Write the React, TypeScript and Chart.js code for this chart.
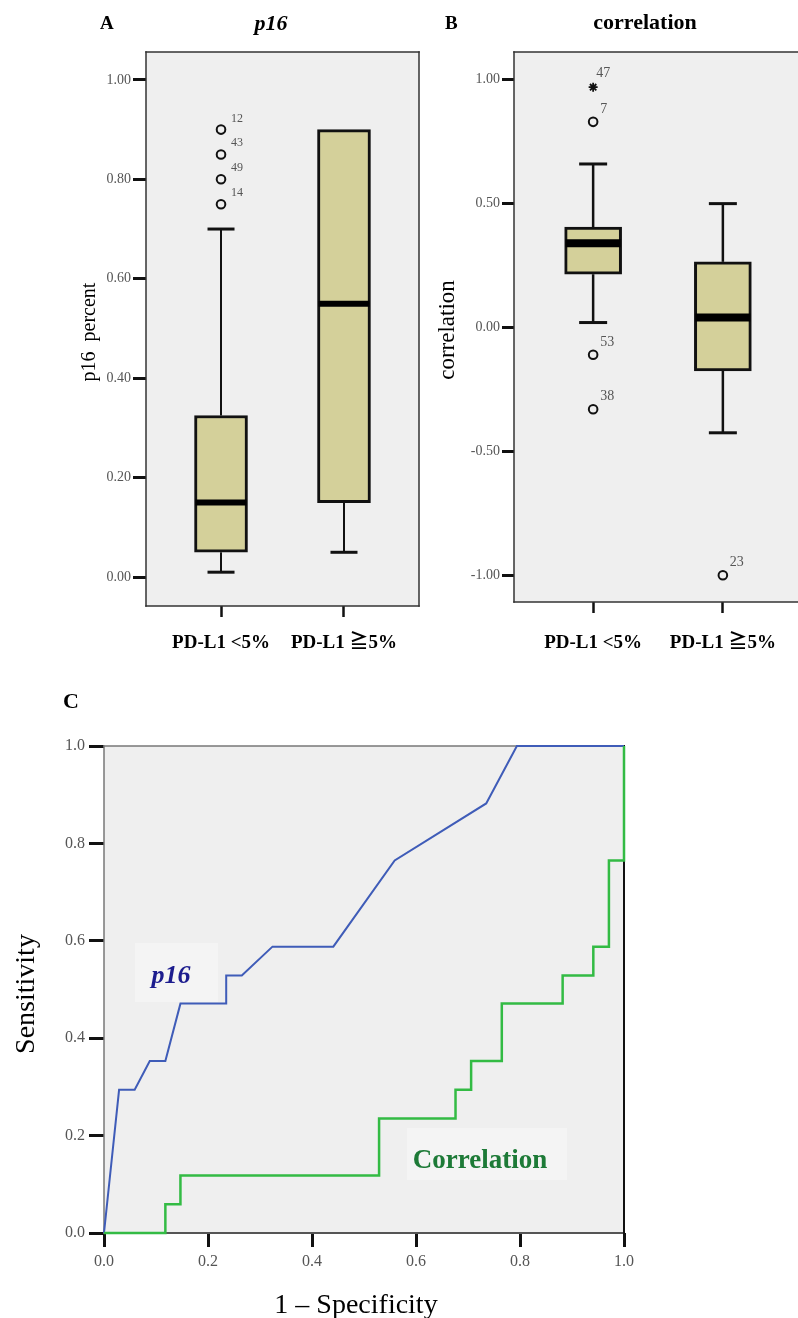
import React, { useEffect, useRef } from 'react';
import { Chart, registerables } from 'chart.js';

Chart.register(...registerables);

const SERIF = "'Liberation Serif', 'Noto Sans CJK TC', serif";

// ---------- Panel A: p16 ----------
const groups = ['PD-L1 <5%', 'PD-L1 ≧5%'];
const p16Low = [0.01, 0.05];
const p16Q1 = [0.05, 0.15];
const p16Median = [0.15, 0.55];
const p16Q3 = [0.325, 0.9];
const p16High = [0.7, 0.9];
const p16OutlierGroup = [1, 1, 1, 1];
const p16OutlierValues = [0.9, 0.85, 0.8, 0.75];
const p16OutlierIds = ['12', '43', '49', '14'];
const p16Ticks = [0, 0.2, 0.4, 0.6, 0.8, 1.0];

// ---------- Panel B: correlation ----------
const corLow = [0.02, -0.425];
const corQ1 = [0.215, -0.175];
const corMedian = [0.34, 0.04];
const corQ3 = [0.405, 0.265];
const corHigh = [0.66, 0.5];
const corOutlierGroup = [1, 1, 1, 2];
const corOutlierValues = [0.83, -0.11, -0.33, -1.0];
const corOutlierIds = ['7', '53', '38', '23'];
const corExtremeGroup = [1];
const corExtremeValues = [0.97];
const corExtremeIds = ['47'];
const corTicks = [-1, -0.5, 0, 0.5, 1];

// ---------- Panel C: ROC ----------
const p16Fpr = [0, 0.029, 0.059, 0.088, 0.118, 0.147, 0.235, 0.235, 0.265, 0.324, 0.441, 0.559, 0.735, 0.794, 1.0];
const p16Tpr = [0, 0.294, 0.294, 0.353, 0.353, 0.471, 0.471, 0.529, 0.529, 0.588, 0.588, 0.765, 0.882, 1.0, 1.0];
const corFpr = [0, 0.118, 0.118, 0.147, 0.147, 0.529, 0.529, 0.676, 0.676, 0.706, 0.706, 0.765, 0.765, 0.882, 0.882, 0.941, 0.941, 0.971, 0.971, 1.0, 1.0];
const corTpr = [0, 0, 0.059, 0.059, 0.118, 0.118, 0.235, 0.235, 0.294, 0.294, 0.353, 0.353, 0.471, 0.471, 0.529, 0.529, 0.588, 0.588, 0.765, 0.765, 1.0];
const rocTicks = [0, 0.2, 0.4, 0.6, 0.8, 1.0];

const BOX_FILL = '#d4d09a';
const PLOT_BG = '#efefef';

type Side = { color: string; width: number };
function framePlugin(bg: string, sides: { top: Side; right: Side; bottom: Side; left: Side }) {
  return {
    id: 'frame',
    beforeDraw(chart: any) {
      const { ctx, chartArea: a } = chart;
      ctx.save();
      ctx.fillStyle = bg;
      ctx.fillRect(a.left, a.top, a.right - a.left, a.bottom - a.top);
      ctx.restore();
    },
    beforeDatasetsDraw(chart: any) {
      const { ctx, chartArea: a } = chart;
      const segs: [number, number, number, number, Side][] = [
        [a.left, a.top, a.right, a.top, sides.top],
        [a.left, a.bottom, a.right, a.bottom, sides.bottom],
        [a.left, a.top, a.left, a.bottom, sides.left],
        [a.right, a.top, a.right, a.bottom, sides.right],
      ];
      ctx.save();
      ctx.lineCap = 'square';
      segs.forEach(([x1, y1, x2, y2, s]) => {
        ctx.strokeStyle = s.color;
        ctx.lineWidth = s.width;
        ctx.beginPath();
        ctx.moveTo(x1, y1);
        ctx.lineTo(x2, y2);
        ctx.stroke();
      });
      ctx.restore();
    },
  };
}

type TextItem = {
  text: string; x: number; y: number; font: string; color?: string;
  align?: CanvasTextAlign; baseline?: CanvasTextBaseline; rotate?: number;
};
type BoxItem = { x: number; y: number; w: number; h: number; color: string };
function textPlugin(items: TextItem[], boxes: BoxItem[] = []) {
  return {
    id: 'texts',
    beforeDatasetsDraw(chart: any) {
      const { ctx } = chart;
      ctx.save();
      boxes.forEach((b) => {
        ctx.fillStyle = b.color;
        ctx.fillRect(b.x, b.y, b.w, b.h);
      });
      ctx.restore();
    },
    afterDraw(chart: any) {
      const { ctx } = chart;
      items.forEach((t) => {
        ctx.save();
        ctx.font = t.font;
        ctx.fillStyle = t.color || '#000';
        ctx.textAlign = t.align || 'left';
        ctx.textBaseline = t.baseline || 'alphabetic';
        ctx.translate(t.x, t.y);
        if (t.rotate) ctx.rotate(t.rotate);
        ctx.fillText(t.text, 0, 0);
        ctx.restore();
      });
    },
  };
}

type BoxCfg = {
  low: number[]; q1: number[]; median: number[]; q3: number[]; high: number[];
  boxWidth: number; capWidth: number; whiskerWidth: number; capLine: number; medianWidth: number;
  labels: { g: number[]; v: number[]; t: string[]; dx: number; dy: number }[];
  labelFont: string; labelColor: string;
};
function boxPlugin(c: BoxCfg) {
  return {
    id: 'boxWhisker',
    beforeDatasetsDraw(chart: any) {
      const { ctx, scales } = chart;
      const xs = scales.x, ys = scales.y;
      ctx.save();
      ctx.strokeStyle = '#111';
      const line = (x1: number, y1: number, x2: number, y2: number) => {
        ctx.beginPath(); ctx.moveTo(x1, y1); ctx.lineTo(x2, y2); ctx.stroke();
      };
      c.low.forEach((_, i) => {
        const cx = xs.getPixelForValue(i + 1);
        const seg = (from: number, to: number) => {
          if (from === to) return;
          ctx.lineWidth = c.whiskerWidth;
          line(cx, ys.getPixelForValue(from), cx, ys.getPixelForValue(to));
          ctx.lineWidth = c.capLine;
          const py = ys.getPixelForValue(to);
          line(cx - c.capWidth / 2, py, cx + c.capWidth / 2, py);
        };
        seg(c.q3[i], c.high[i]);
        seg(c.q1[i], c.low[i]);
      });
      ctx.restore();
    },
    afterDatasetsDraw(chart: any) {
      const { ctx, scales } = chart;
      const xs = scales.x, ys = scales.y;
      ctx.save();
      ctx.strokeStyle = '#000';
      ctx.lineWidth = c.medianWidth;
      c.median.forEach((m, i) => {
        const cx = xs.getPixelForValue(i + 1);
        const py = ys.getPixelForValue(m);
        ctx.beginPath();
        ctx.moveTo(cx - c.boxWidth / 2 + 1, py);
        ctx.lineTo(cx + c.boxWidth / 2 - 1, py);
        ctx.stroke();
      });
      ctx.font = c.labelFont;
      ctx.fillStyle = c.labelColor;
      ctx.textAlign = 'left';
      ctx.textBaseline = 'alphabetic';
      c.labels.forEach((set) => {
        set.t.forEach((t, i) => {
          const px = xs.getPixelForValue(set.g[i]);
          const py = ys.getPixelForValue(set.v[i]);
          ctx.fillText(t, px + set.dx, py + set.dy);
        });
      });
      ctx.restore();
    },
  };
}

const noPadX = (h: number) => (s: any) => { s.height = h; s.paddingLeft = 0; s.paddingRight = 0; };
const noPadY = (w: number) => (s: any) => { s.width = w; s.paddingTop = 0; s.paddingBottom = 0; };

function boxChartConfig(opts: {
  q1: number[]; q3: number[]; yMin: number; yMax: number; yTicks: number[];
  circles: { g: number[]; v: number[] }; stars?: { g: number[]; v: number[] };
  barWidth: number; yAxisWidth: number; xAxisHeight: number; padRight: number;
  yTickLen: number; yTickPad: number; xTickPad: number; plugins: any[];
}) {
  const datasets: any[] = [
    {
      type: 'bar',
      data: opts.q1.map((v, i) => ({ x: i + 1, y: [v, opts.q3[i]] })),
      backgroundColor: BOX_FILL,
      borderColor: '#111',
      borderWidth: 3,
      borderSkipped: false,
      barThickness: opts.barWidth,
    },
    {
      type: 'scatter',
      data: opts.circles.g.map((g, i) => ({ x: g, y: opts.circles.v[i] })),
      pointStyle: 'circle',
      pointRadius: 4.3,
      borderWidth: 2,
      borderColor: '#111',
      backgroundColor: 'rgba(0,0,0,0)',
    },
  ];
  if (opts.stars) {
    datasets.push({
      type: 'scatter',
      data: opts.stars.g.map((g, i) => ({ x: g, y: opts.stars!.v[i] })),
      pointStyle: 'star',
      pointRadius: 4.5,
      borderWidth: 1.8,
      borderColor: '#111',
      backgroundColor: '#111',
    });
  }
  return {
    type: 'bar',
    data: { datasets },
    options: {
      animation: false,
      responsive: false,
      devicePixelRatio: 1,
      events: [],
      layout: { autoPadding: false, padding: { left: 0, right: opts.padRight, top: 52, bottom: 0 } },
      plugins: { legend: { display: false }, tooltip: { enabled: false }, title: { display: false } },
      scales: {
        x: {
          type: 'linear',
          min: 0.39,
          max: 2.61,
          offset: false,
          afterBuildTicks: (s: any) => { s.ticks = groups.map((_, i) => ({ value: i + 1 })); },
          afterFit: noPadX(opts.xAxisHeight),
          ticks: {
            callback: (v: any) => groups[Math.round(v) - 1],
            font: { family: SERIF, size: 19, weight: 'bold' },
            color: '#000',
            padding: opts.xTickPad,
            maxRotation: 0,
            autoSkip: false,
          },
          grid: { offset: false, drawOnChartArea: false, drawTicks: true, tickLength: 11, tickWidth: 2.5, tickColor: '#111' },
          border: { display: false },
        },
        y: {
          type: 'linear',
          min: opts.yMin,
          max: opts.yMax,
          afterBuildTicks: (s: any) => { s.ticks = opts.yTicks.map((v) => ({ value: v })); },
          afterFit: noPadY(opts.yAxisWidth),
          ticks: {
            callback: (v: any) => Number(v).toFixed(2),
            font: { family: SERIF, size: 14 },
            color: '#555',
            padding: opts.yTickPad,
          },
          grid: { drawOnChartArea: false, drawTicks: true, tickLength: opts.yTickLen, tickWidth: 3, tickColor: '#111' },
          border: { display: false },
        },
      },
    },
    plugins: opts.plugins,
  };
}

export default function App() {
  const aRef = useRef<HTMLCanvasElement>(null);
  const bRef = useRef<HTMLCanvasElement>(null);
  const cRef = useRef<HTMLCanvasElement>(null);

  useEffect(() => {
    const darkFrame = { color: '#333', width: 1.5 };
    const charts: Chart[] = [];

    // Panel A
    charts.push(new Chart(aRef.current!, boxChartConfig({
      q1: p16Q1, q3: p16Q3, yMin: -0.058, yMax: 1.056, yTicks: p16Ticks,
      circles: { g: p16OutlierGroup, v: p16OutlierValues },
      barWidth: 53, yAxisWidth: 146, xAxisHeight: 54, padRight: 1, yTickLen: 13, yTickPad: 2, xTickPad: 15,
      plugins: [
        framePlugin(PLOT_BG, { top: darkFrame, right: darkFrame, bottom: darkFrame, left: darkFrame }),
        boxPlugin({
          low: p16Low, q1: p16Q1, median: p16Median, q3: p16Q3, high: p16High,
          boxWidth: 53, capWidth: 27, whiskerWidth: 2, capLine: 3, medianWidth: 6,
          labels: [{ g: p16OutlierGroup, v: p16OutlierValues, t: p16OutlierIds, dx: 10, dy: -8 }],
          labelFont: `12px ${SERIF}`, labelColor: '#555',
        }),
        textPlugin([
          { text: 'A', x: 100, y: 29, font: `bold 19px ${SERIF}` },
          { text: 'p16', x: 271, y: 30, font: `italic bold 22px ${SERIF}`, align: 'center' },
          { text: 'p16  percent', x: 90, y: 332, font: `20px ${SERIF}`, align: 'center', baseline: 'middle', rotate: -Math.PI / 2 },
        ]),
      ],
    }) as any));

    // Panel B
    charts.push(new Chart(bRef.current!, boxChartConfig({
      q1: corQ1, q3: corQ3, yMin: -1.108, yMax: 1.112, yTicks: corTicks,
      circles: { g: corOutlierGroup, v: corOutlierValues },
      stars: { g: corExtremeGroup, v: corExtremeValues },
      barWidth: 57, yAxisWidth: 94, xAxisHeight: 58, padRight: 38, yTickLen: 12, yTickPad: 2, xTickPad: 19,
      plugins: [
        framePlugin(PLOT_BG, { top: darkFrame, right: darkFrame, bottom: darkFrame, left: darkFrame }),
        boxPlugin({
          low: corLow, q1: corQ1, median: corMedian, q3: corQ3, high: corHigh,
          boxWidth: 57, capWidth: 28, whiskerWidth: 2.5, capLine: 3, medianWidth: 8,
          labels: [
            { g: corOutlierGroup, v: corOutlierValues, t: corOutlierIds, dx: 7, dy: -9 },
            { g: corExtremeGroup, v: corExtremeValues, t: corExtremeIds, dx: 3, dy: -10 },
          ],
          labelFont: `14px ${SERIF}`, labelColor: '#555',
        }),
        textPlugin([
          { text: 'B', x: 25, y: 29, font: `bold 19px ${SERIF}` },
          { text: 'correlation', x: 225, y: 29, font: `bold 22px ${SERIF}`, align: 'center' },
          { text: 'correlation', x: 28, y: 330, font: `23px ${SERIF}`, align: 'center', baseline: 'middle', rotate: -Math.PI / 2 },
        ]),
      ],
    }) as any));

    // Panel C
    charts.push(new Chart(cRef.current!, {
      type: 'scatter',
      data: {
        datasets: [
          {
            data: corFpr.map((x, i) => ({ x, y: corTpr[i] })),
            showLine: true,
            borderColor: '#33bb44',
            borderWidth: 2.5,
            pointRadius: 0,
            tension: 0,
            clip: false,
          },
          {
            data: p16Fpr.map((x, i) => ({ x, y: p16Tpr[i] })),
            showLine: true,
            borderColor: '#3f5cb8',
            borderWidth: 2,
            pointRadius: 0,
            tension: 0,
            clip: false,
          },
        ],
      },
      options: {
        animation: false,
        responsive: false,
        devicePixelRatio: 1,
        events: [],
        layout: { autoPadding: false, padding: { left: 0, right: 174, top: 86, bottom: 0 } },
        plugins: { legend: { display: false }, tooltip: { enabled: false } },
        scales: {
          x: {
            type: 'linear', min: 0, max: 1,
            afterBuildTicks: (s: any) => { s.ticks = rocTicks.map((v) => ({ value: v })); },
            afterFit: noPadX(85),
            ticks: { callback: (v: any) => Number(v).toFixed(1), font: { family: SERIF, size: 16 }, color: '#555', padding: 5, maxRotation: 0 },
            grid: { drawOnChartArea: false, drawTicks: true, tickLength: 14, tickWidth: 3, tickColor: '#111' },
            border: { display: false },
          },
          y: {
            type: 'linear', min: 0, max: 1,
            afterBuildTicks: (s: any) => { s.ticks = rocTicks.map((v) => ({ value: v })); },
            afterFit: noPadY(104),
            ticks: { callback: (v: any) => Number(v).toFixed(1), font: { family: SERIF, size: 16 }, color: '#555', padding: 4 },
            grid: { drawOnChartArea: false, drawTicks: true, tickLength: 15, tickWidth: 3, tickColor: '#111' },
            border: { display: false },
          },
        },
      },
      plugins: [
        framePlugin(PLOT_BG, {
          top: { color: '#777', width: 1.5 },
          right: { color: '#111', width: 2 },
          bottom: { color: '#555', width: 2 },
          left: { color: '#777', width: 1.5 },
        }),
        textPlugin(
          [
            { text: 'C', x: 63, y: 48, font: `bold 22px ${SERIF}` },
            { text: 'Sensitivity', x: 27, y: 334, font: `28px ${SERIF}`, align: 'center', baseline: 'middle', rotate: -Math.PI / 2 },
            { text: '1 – Specificity', x: 356, y: 653, font: `28px ${SERIF}`, align: 'center' },
            { text: 'p16', x: 171, y: 323, font: `italic bold 26px ${SERIF}`, color: '#1c1c8e', align: 'center' },
            { text: 'Correlation', x: 480, y: 508, font: `bold 27px ${SERIF}`, color: '#1d7a37', align: 'center' },
          ],
          [
            { x: 135, y: 283, w: 83, h: 59, color: '#f4f4f4' },
            { x: 407, y: 468, w: 160, h: 52, color: '#f4f4f4' },
          ],
        ),
      ],
    } as any));

    return () => charts.forEach((c) => c.destroy());
  }, []);

  return (
    <div style={{ position: 'absolute', left: 0, top: 0, width: 798, height: 1318, overflow: 'hidden', background: '#fff' }}>
      <canvas ref={aRef} width={420} height={660} style={{ position: 'absolute', left: 0, top: 0 }} />
      <canvas ref={bRef} width={420} height={660} style={{ position: 'absolute', left: 420, top: 0 }} />
      <canvas ref={cRef} width={798} height={658} style={{ position: 'absolute', left: 0, top: 660 }} />
    </div>
  );
}
